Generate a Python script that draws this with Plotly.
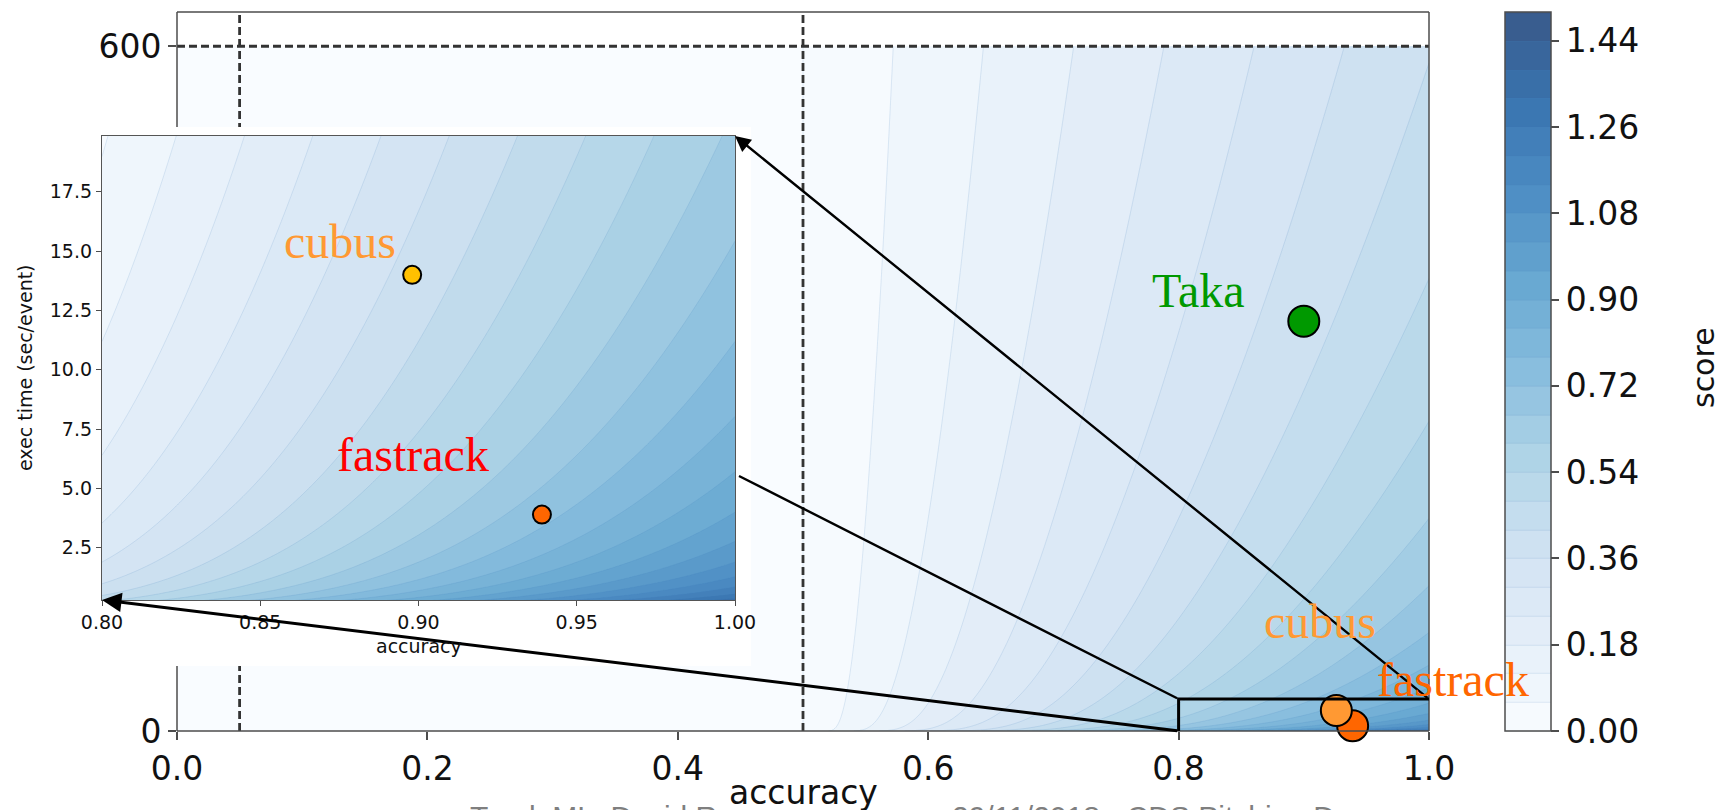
import numpy as np
import plotly.graph_objects as go

# ---------------- data ----------------
# Throughput score: sqrt(log(1 + T_REF / t)) * (accuracy - ACC_MIN), zero below ACC_MIN
T_REF = 600.0
ACC_MIN = 0.5

main_accuracy_grid = np.linspace(0.0, 1.0, 401)
main_time_grid = np.concatenate([np.geomspace(0.1, 10.0, 90), np.linspace(10.5, 600.0, 420)])

inset_accuracy_grid = np.linspace(0.8, 1.0, 241)
inset_time_grid = np.concatenate([np.geomspace(0.1, 2.0, 70), np.linspace(2.1, 20.0, 200)])

# submissions shown on the full plot
main_names = ["Taka", "fastrack", "cubus"]
main_accuracy = [0.900, 0.939, 0.926]
main_time = [359.0, 4.6, 18.0]
main_colors = ["#009900", "#ff6600", "#ff9933"]

# submissions shown on the zoomed plot
inset_names = ["cubus", "fastrack"]
inset_accuracy = [0.898, 0.939]
inset_time = [14.0, 3.9]
inset_colors = ["#ffc000", "#ff6600"]

# reference lines
accuracy_marks = [0.05, 0.5]
time_limit = 600.0

# zoom window drawn on the full plot
zoom_accuracy = [0.8, 1.0]
zoom_time_top = 28.0

# tick values
main_xticks = [0.0, 0.2, 0.4, 0.6, 0.8, 1.0]
main_yticks = [0, 600]
inset_xticks = [0.80, 0.85, 0.90, 0.95, 1.00]
inset_yticks = [2.5, 5.0, 7.5, 10.0, 12.5, 15.0, 17.5]
cbar_ticks = [0.00, 0.18, 0.36, 0.54, 0.72, 0.90, 1.08, 1.26, 1.44]

# contour levels
main_levels = dict(start=0.0, end=1.5, size=0.06)
inset_levels = dict(start=0.52, end=1.48, size=0.04)


def score(acc, t):
    A, T = np.meshgrid(acc, t)
    return np.sqrt(np.log1p(T_REF / T)) * np.clip(A - ACC_MIN, 0, None)


z_main = score(main_accuracy_grid, main_time_grid)
z_inset = score(inset_accuracy_grid, inset_time_grid)

# ---------------- geometry (pixels) ----------------
W, H = 1725, 810
MAIN = dict(l=177, r=1429, t=12, b=731)
INSET = dict(l=102, r=735, t=136, b=600)
PANEL = dict(l=0, r=751, t=127, b=666)
CBAR = dict(l=1505, w=46, t=12, b=731)
MAIN_XR, MAIN_YR = [0.0, 1.0], [0.0, 630.0]
INSET_XR, INSET_YR = [0.8, 1.0], [0.3, 19.85]


def dom_x(b):
    return [b["l"] / W, b["r"] / W]


def dom_y(b):
    return [(H - b["b"]) / H, (H - b["t"]) / H]


def px_to_main(px, py):
    x = MAIN_XR[0] + (px - MAIN["l"]) / (MAIN["r"] - MAIN["l"]) * (MAIN_XR[1] - MAIN_XR[0])
    y = MAIN_YR[0] + (MAIN["b"] - py) / (MAIN["b"] - MAIN["t"]) * (MAIN_YR[1] - MAIN_YR[0])
    return x, y


def main_to_px(x, y):
    px = MAIN["l"] + (x - MAIN_XR[0]) / (MAIN_XR[1] - MAIN_XR[0]) * (MAIN["r"] - MAIN["l"])
    py = MAIN["b"] - (y - MAIN_YR[0]) / (MAIN_YR[1] - MAIN_YR[0]) * (MAIN["b"] - MAIN["t"])
    return px, py


def inset_to_px(x, y):
    px = INSET["l"] + (x - INSET_XR[0]) / (INSET_XR[1] - INSET_XR[0]) * (INSET["r"] - INSET["l"])
    py = INSET["b"] - (y - INSET_YR[0]) / (INSET_YR[1] - INSET_YR[0]) * (INSET["b"] - INSET["t"])
    return px, py


def paper(px, py):
    return px / W, (H - py) / H


# Blues colormap drawn with 0.8 opacity over white
blues = ["#f7fbff", "#deebf7", "#c6dbef", "#9ecae1", "#6baed6",
         "#4292c6", "#2171b5", "#08519c", "#08306b"]


def soften(hx, a=0.8):
    r, g, b = (int(hx[i:i + 2], 16) for i in (1, 3, 5))
    return "rgb(%d,%d,%d)" % tuple(round(a * c + (1 - a) * 255) for c in (r, g, b))


cscale = [[i / (len(blues) - 1), soften(c)] for i, c in enumerate(blues)]

SPINE = "#4d4d4d"
TICKFONT = dict(family="DejaVu Sans", size=33, color="#111111")
SERIF = "Liberation Serif"

fig = go.Figure()

# full-range score map
fig.add_trace(go.Contour(
    x=main_accuracy_grid, y=main_time_grid, z=z_main,
    colorscale=cscale, zmin=main_levels["start"], zmax=main_levels["end"],
    autocontour=False, contours=dict(coloring="fill", **main_levels),
    line=dict(width=0.6, color="rgba(70,130,190,0.25)"),
    colorbar=dict(
        x=CBAR["l"] / W, xanchor="left", thickness=CBAR["w"], thicknessmode="pixels",
        y=(H - CBAR["b"]) / H, yanchor="bottom", len=(CBAR["b"] - CBAR["t"]) / H, lenmode="fraction",
        xpad=0, ypad=0, outlinewidth=1.5, outlinecolor=SPINE,
        tickvals=cbar_ticks, tickformat=".2f", ticks="outside", ticklen=8,
        tickwidth=1.5, tickcolor=SPINE, tickfont=dict(family="DejaVu Sans", size=33, color="#111111"),
    ),
    hoverinfo="skip", xaxis="x", yaxis="y",
))

# dashed reference lines
for a in accuracy_marks:
    fig.add_trace(go.Scatter(x=[a, a], y=MAIN_YR, mode="lines",
                             line=dict(color="#333333", width=2.8, dash="8px,4px"),
                             hoverinfo="skip", showlegend=False, xaxis="x", yaxis="y"))
fig.add_trace(go.Scatter(x=MAIN_XR, y=[time_limit, time_limit], mode="lines",
                         line=dict(color="#333333", width=2.8, dash="8px,4px"),
                         hoverinfo="skip", showlegend=False, xaxis="x", yaxis="y"))

# white panel behind the zoomed plot
px0, py0 = px_to_main(PANEL["l"], PANEL["b"])
px1, py1 = px_to_main(PANEL["r"], PANEL["t"])
fig.add_trace(go.Scatter(x=[px0, px1, px1, px0, px0], y=[py0, py0, py1, py1, py0],
                         mode="lines", fill="toself", fillcolor="white",
                         line=dict(width=0), hoverinfo="skip", showlegend=False,
                         xaxis="x", yaxis="y"))

# submissions on the full plot
fig.add_trace(go.Scatter(x=main_accuracy, y=main_time, mode="markers",
                         marker=dict(size=31, color=main_colors, line=dict(color="black", width=2)),
                         cliponaxis=False, hoverinfo="skip", showlegend=False,
                         xaxis="x", yaxis="y"))

# zoomed score map
fig.add_trace(go.Contour(
    x=inset_accuracy_grid, y=inset_time_grid, z=z_inset,
    colorscale=cscale, zmin=inset_levels["start"], zmax=inset_levels["end"],
    autocontour=False, contours=dict(coloring="fill", **inset_levels),
    line=dict(width=0.6, color="rgba(70,130,190,0.25)"),
    showscale=False, hoverinfo="skip", xaxis="x2", yaxis="y2",
))
fig.add_trace(go.Scatter(x=inset_accuracy, y=inset_time, mode="markers",
                         marker=dict(size=18, color=inset_colors, line=dict(color="black", width=2)),
                         hoverinfo="skip", showlegend=False, xaxis="x2", yaxis="y2"))

# frame of the full plot (left side interrupted by the panel)
frame = [
    ((MAIN["l"], MAIN["t"]), (MAIN["r"], MAIN["t"])),
    ((MAIN["r"], MAIN["t"]), (MAIN["r"], MAIN["b"])),
    ((MAIN["l"], MAIN["b"]), (MAIN["r"], MAIN["b"])),
    ((MAIN["l"], MAIN["t"]), (MAIN["l"], PANEL["t"])),
    ((MAIN["l"], PANEL["b"]), (MAIN["l"], MAIN["b"])),
]
shapes = []
for (a, b) in frame:
    x0, y0 = paper(*a)
    x1, y1 = paper(*b)
    shapes.append(dict(type="line", xref="paper", yref="paper", x0=x0, y0=y0, x1=x1, y1=y1,
                       line=dict(color=SPINE, width=1.5), layer="above"))

# zoom window
shapes.append(dict(type="path", xref="x", yref="y", layer="above",
                   path="M %g,%g L %g,%g L %g,%g" % (zoom_accuracy[0], 0, zoom_accuracy[0], zoom_time_top,
                                                      zoom_accuracy[1], zoom_time_top),
                   line=dict(color="black", width=3)))

annotations = []


def paper_text(px, py, text, font, **kw):
    x, y = paper(px, py)
    d = dict(x=x, y=y, xref="paper", yref="paper", xanchor="center", yanchor="middle",
             text=text, showarrow=False, font=font)
    d.update(kw)
    annotations.append(d)


# connectors from the zoom window to the zoomed plot
hx, hy = px_to_main(*inset_to_px(INSET_XR[1], INSET_YR[1]))
annotations.append(dict(x=hx, y=hy, ax=zoom_accuracy[1], ay=zoom_time_top, xref="x", yref="y",
                        axref="x", ayref="y", text="", showarrow=True, arrowhead=2, arrowsize=1.3,
                        arrowwidth=2.4, arrowcolor="black", standoff=0, startstandoff=0))
hx, hy = px_to_main(INSET["r"] + 4, 476)
annotations.append(dict(x=hx, y=hy, ax=zoom_accuracy[0], ay=zoom_time_top, xref="x", yref="y",
                        axref="x", ayref="y", text="", showarrow=True, arrowhead=0,
                        arrowwidth=2.4, arrowcolor="black", standoff=0, startstandoff=0))
hx, hy = px_to_main(*inset_to_px(INSET_XR[0], INSET_YR[0]))
annotations.append(dict(x=hx, y=hy, ax=zoom_accuracy[0], ay=0, xref="x", yref="y",
                        axref="x", ayref="y", text="", showarrow=True, arrowhead=2, arrowsize=1.3,
                        arrowwidth=3, arrowcolor="black", standoff=0, startstandoff=0))

# submission labels (positions in the full plot's data units)
main_label_pos = {"Taka": (0.816, 386), "cubus": (0.913, 96), "fastrack": (1.019, 45)}
for name, col in zip(main_names, main_colors):
    paper_text(*main_to_px(*main_label_pos[name]), name, dict(family=SERIF, size=48, color=col))
inset_label_pos = {"cubus": (0.8752, 15.4), "fastrack": (0.8982, 6.45)}
inset_label_colors = {"cubus": "#ff9933", "fastrack": "#ff0000"}
for name in inset_names:
    paper_text(*inset_to_px(*inset_label_pos[name]), name,
               dict(family=SERIF, size=48, color=inset_label_colors[name]))

# axis titles
paper_text((MAIN["l"] + MAIN["r"]) / 2, 792, "accuracy",
           dict(family="DejaVu Sans", size=33, color="#111111"))
paper_text(1704, 368, "score", dict(family="DejaVu Sans", size=30, color="#111111"), textangle=-90)
paper_text((INSET["l"] + INSET["r"]) / 2, 646, "accuracy",
           dict(family="DejaVu Sans", size=19, color="#111111"))
paper_text(25, (INSET["t"] + INSET["b"]) / 2, "exec time (sec/event)",
           dict(family="DejaVu Sans", size=19, color="#111111"), textangle=-90)

# slide footer, running off the bottom edge
for text, left in [("Track ML: David Rousseau", 468), ("29/11/2018 - CDS Pitching Day", 950)]:
    paper_text(left, 798, text, dict(family="Liberation Sans", size=30, color="#7f7f7f"),
               xanchor="left", yanchor="top")

axis_common = dict(showgrid=False, zeroline=False, ticks="outside", tickcolor=SPINE, automargin=False)

fig.update_layout(
    width=W, height=H, margin=dict(l=0, r=0, t=0, b=0, autoexpand=False),
    paper_bgcolor="white", plot_bgcolor="white", hovermode=False, showlegend=False,
    xaxis=dict(domain=dom_x(MAIN), range=MAIN_XR, tickvals=main_xticks, tickformat=".1f",
               ticklen=8, tickwidth=1.5, tickfont=TICKFONT, showline=False, **axis_common),
    yaxis=dict(domain=dom_y(MAIN), range=MAIN_YR, tickvals=main_yticks,
               ticklen=8, tickwidth=1.5, tickfont=TICKFONT, showline=False, **axis_common),
    xaxis2=dict(domain=dom_x(INSET), range=INSET_XR, anchor="y2", tickvals=inset_xticks,
                tickformat=".2f", ticklen=5, tickwidth=1.2,
                tickfont=dict(family="DejaVu Sans", size=19, color="#111111"),
                showline=True, mirror=True, linecolor="#555555", linewidth=1.3, **axis_common),
    yaxis2=dict(domain=dom_y(INSET), range=INSET_YR, anchor="x2", tickvals=inset_yticks,
                tickformat=".1f", ticklen=5, tickwidth=1.2,
                tickfont=dict(family="DejaVu Sans", size=19, color="#111111"),
                showline=True, mirror=True, linecolor="#555555", linewidth=1.3, **axis_common),
    shapes=shapes, annotations=annotations,
)

fig.write_html("out.html")
